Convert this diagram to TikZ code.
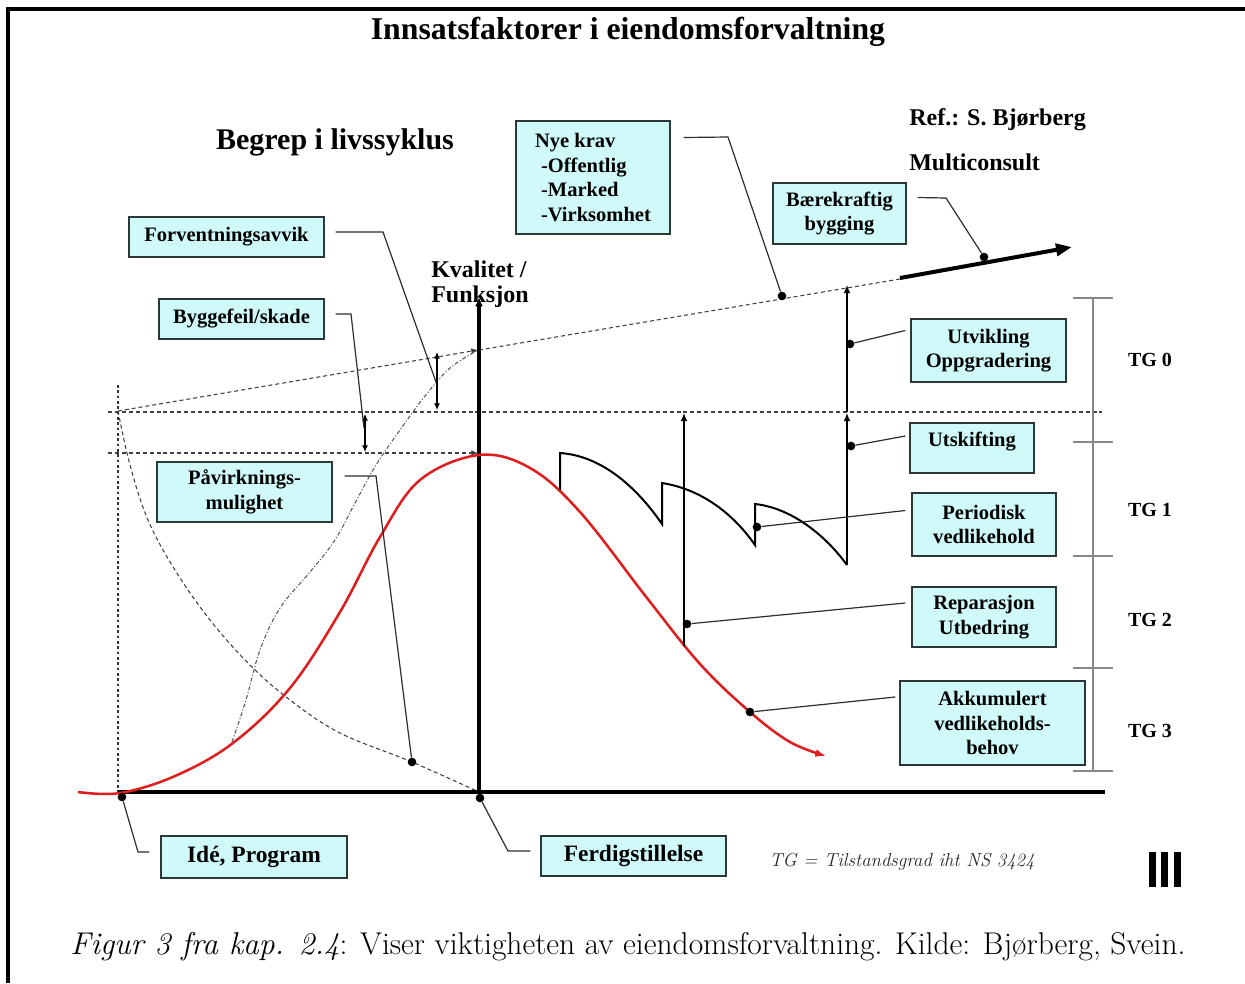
\documentclass[tikz,border=0pt]{standalone}
\usepackage{fontspec}
\setmainfont{Liberation Serif}
\newfontfamily\capfont{Latin Modern Roman}
\usetikzlibrary{arrows.meta}
\definecolor{boxfill}{RGB}{208,250,250}
\definecolor{boxline}{RGB}{45,55,55}
\definecolor{curvered}{RGB}{222,30,30}
\definecolor{rulergray}{RGB}{135,135,135}
\definecolor{leadgray}{RGB}{45,45,45}
\begin{document}
\begin{tikzpicture}[x=0.75pt,y=-0.75pt,
  lbl/.style={draw=boxline, line width=1.1pt, fill=boxfill, align=center, inner sep=0pt,
    font=\fontsize{15.4}{18.5}\selectfont\bfseries},
  biglbl/.style={lbl, font=\fontsize{17.6}{21}\selectfont\bfseries},
  plain/.style={inner sep=0pt, font=\fontsize{18}{21}\selectfont\bfseries},
  tglbl/.style={inner sep=0pt, font=\fontsize{15}{18}\selectfont\bfseries},
  dot/.style={circle, fill=black, inner sep=0pt, minimum size=6.5pt},
  leader/.style={draw=leadgray, line width=0.9pt},
  dashline/.style={draw=black!75, line width=0.8pt, dash pattern=on 3pt off 2.2pt},
  dotline/.style={draw=black!80, line width=0.8pt, dash pattern=on 2pt off 2pt},
  dashdot/.style={draw=black!65, line width=0.8pt, dash pattern=on 3pt off 1.5pt on 0.8pt off 1.5pt},
  smallarr/.style={-{Latex[length=5pt,width=4.5pt]}},
  dbl/.style={draw=black, line width=0.8pt, {Latex[length=5pt,width=4.5pt]}-{Latex[length=5pt,width=4.5pt]}},
  vline/.style={draw=black, line width=0.9pt, -{Latex[length=6pt,width=5pt]}},
  saw/.style={draw=black, line width=1.5pt, line join=miter},
  ruler/.style={draw=rulergray, line width=1.6pt}
]
\useasboundingbox (0,0) rectangle (1245,983);
% frame
\draw[line width=2.4pt] (8,983) -- (8,9) -- (1245,9);

% titles
\node[inner sep=0pt, font=\fontsize{23.8}{28}\selectfont\bfseries] (title) at (628,32) {Innsatsfaktorer i eiendomsforvaltning};
\node[inner sep=0pt, font=\fontsize{22.5}{26}\selectfont\bfseries] (begrep) at (335,142) {Begrep i livssyklus};
\node[plain, anchor=west] (ref) at (909,120) {Ref.: S. Bjørberg};
\node[plain, anchor=west] (multi) at (909,162) {Multiconsult};
\node[plain, anchor=west] (kval1) at (431,269) {Kvalitet /};
\node[plain, anchor=west] (kval2) at (431,297) {Funksjon};

% reference lines
\draw[dashline] (108,412) -- (1102,412);
\draw[dashline, smallarr] (108,453) -- (478,453);
\draw[dashline, smallarr] (118,411) -- (478,350);
\draw[dashline] (479,350) -- (900,279);
\draw[dotline] (118,385) -- (118,792);
% paavirkning curve
\draw[dashline] plot[smooth, tension=0.6] coordinates {(118,411) (130,465) (148,520) (175,570) (210,620) (250,665) (290,700) (340,733) (412,762) (479,792)};
% expected quality curve
\draw[dashdot] plot[smooth, tension=0.6] coordinates {(232,742) (246,700) (260,650) (280,608) (310,572) (335,540) (355,503) (376,465) (400,430) (425,396) (450,368) (478,350)};

% thick sustainable arrow
\draw[line width=3pt, -{Triangle[length=12pt,width=9pt]}] (900,278) -- (1072,247);

% axes
\draw[line width=2.4pt, -{Latex[length=7pt,width=6pt]}] (479,794) -- (479,297);
\draw[line width=3pt] (118,792) -- (1105,792);

% red curve
\draw[curvered, line width=1.9pt, -{Latex[length=8pt,width=6pt]}] plot[smooth, tension=0.6] coordinates {(78,792) (120,793) (175,776) (233,743) (290,688) (340,612) (380,537) (420,480) (479,455) (530,468) (580,512) (647,598) (700,664) (750,712) (790,742) (826,756)};

% sawtooth (periodic maintenance)
\draw[saw] (560,490) -- (560,453) .. controls (605,456) and (640,492) .. (662,524)
  -- (662,483) .. controls (700,489) and (732,512) .. (755,545)
  -- (755,504) .. controls (792,508) and (826,536) .. (847,565);

% vertical action arrows
\draw[vline] (847,565) -- (847,413);
\draw[vline] (847,412) -- (847,285);
\draw[vline] (684,646) -- (684,413);

% double arrows
\draw[dbl] (437,352) -- (437,410);
\draw[dbl] (365,414) -- (365,452);
\coordinate (fa) at (436,382);
\coordinate (ba) at (364,428);

% TG ruler
\draw[ruler] (1093,298) -- (1093,771);
\foreach \yy in {298,442,556,668,771} \draw[ruler] (1073,\yy) -- (1113,\yy);
\node[tglbl] (tg0) at (1150,360) {TG 0};
\node[tglbl] (tg1) at (1150,510) {TG 1};
\node[tglbl] (tg2) at (1150,620) {TG 2};
\node[tglbl] (tg3) at (1150,731) {TG 3};

% boxes
\node[lbl, minimum width=146.25pt, minimum height=30pt] (forv) at (226.5,237) {Forventningsavvik};
\node[lbl, minimum width=123.75pt, minimum height=30pt] (bygg) at (241.5,319) {Byggefeil/skade};
\node[lbl, minimum width=131.25pt, minimum height=45pt] (pav) at (244.5,492) {Påvirknings-\\mulighet};
\node[lbl, minimum width=115.5pt, minimum height=84.75pt, align=left] (nye) at (593,177.5) {Nye krav\\\hspace{4.5pt}-Offentlig\\\hspace{4.5pt}-Marked\\\hspace{4.5pt}-Virksomhet};
\node[lbl, minimum width=99.75pt, minimum height=45.75pt] (baer) at (839.5,213.5) {Bærekraftig\\bygging};
\node[lbl, minimum width=116.25pt, minimum height=47.25pt] (utv) at (988.5,350.5) {Utvikling\\Oppgradering};
\node[lbl, minimum width=93pt, minimum height=37.5pt, text depth=13pt] (utsk) at (972,448) {Utskifting};
\node[lbl, minimum width=108pt, minimum height=47.25pt] (per) at (984,524.5) {Periodisk\\vedlikehold};
\node[lbl, minimum width=108pt, minimum height=45pt] (rep) at (984,617) {Reparasjon\\Utbedring};
\node[lbl, minimum width=138.75pt, minimum height=63pt] (akk) at (992.5,723) {Akkumulert\\vedlikeholds-\\behov};
\node[biglbl, minimum width=139.5pt, minimum height=31.5pt] (ide) at (254,857) {Idé, Program};
\node[biglbl, minimum width=138.75pt, minimum height=30pt] (ferd) at (633.5,856) {Ferdigstillelse};

% dots
\node[dot] (dIde) at (122,797) {};
\node[dot] (dFerd) at (480,798) {};
\node[dot] (dPav) at (412,762) {};
\node[dot] (dNye) at (782,296) {};
\node[dot] (dBaer) at (984,257) {};
\node[dot] (dUtv) at (850,344) {};
\node[dot] (dUtsk) at (851,446) {};
\node[dot] (dPer) at (757,527) {};
\node[dot] (dRep) at (687,624) {};
\node[dot] (dAkk) at (750,712) {};

% leaders
\draw[leader] ([shift={(11,-5)}]forv.east) -- (383,232) -- (fa);
\draw[leader] ([shift={(11,-5)}]bygg.east) -- (351,314) -- (ba);
\draw[leader] ([shift={(12,-16)}]pav.east) -- (376,476) -- (dPav);
\draw[leader] ([shift={(13,-40)}]nye.east) -- (728,137) -- (dNye);
\draw[leader] ([shift={(11,-16)}]baer.east) -- (946,198) -- (dBaer);
\draw[leader] ([shift={(-5,-20)}]utv.west) -- (dUtv);
\draw[leader] ([shift={(-4,-12)}]utsk.west) -- (dUtsk);
\draw[leader] ([shift={(-6,-14)}]per.west) -- (dPer);
\draw[leader] ([shift={(-6,-14)}]rep.west) -- (dRep);
\draw[leader] ([shift={(-4,-26)}]akk.west) -- (dAkk);
\draw[leader] (dIde) -- (138,852) -- ([shift={(-11,-5)}]ide.west);
\draw[leader] (dFerd) -- (508,851) -- ([shift={(-10,-5)}]ferd.west);

% footnote and logo
\node[inner sep=0pt, font=\capfont\fontsize{14.1}{17}\selectfont\itshape, text=black!85] (tgnote) at (902,862) {TG = Tilstandsgrad iht NS 3424};
\fill (1149,852) rectangle (1156,887);
\fill (1161,852) rectangle (1168,887);
\fill (1174,852) rectangle (1181,887);

% caption
\node[inner sep=0pt, font=\capfont\fontsize{23.6}{28}\selectfont] (caption) at (628,947) {\textit{Figur 3 fra kap. 2.4}: Viser viktigheten av eiendomsforvaltning. Kilde: Bjørberg, Svein.};
\end{tikzpicture}
\end{document}
